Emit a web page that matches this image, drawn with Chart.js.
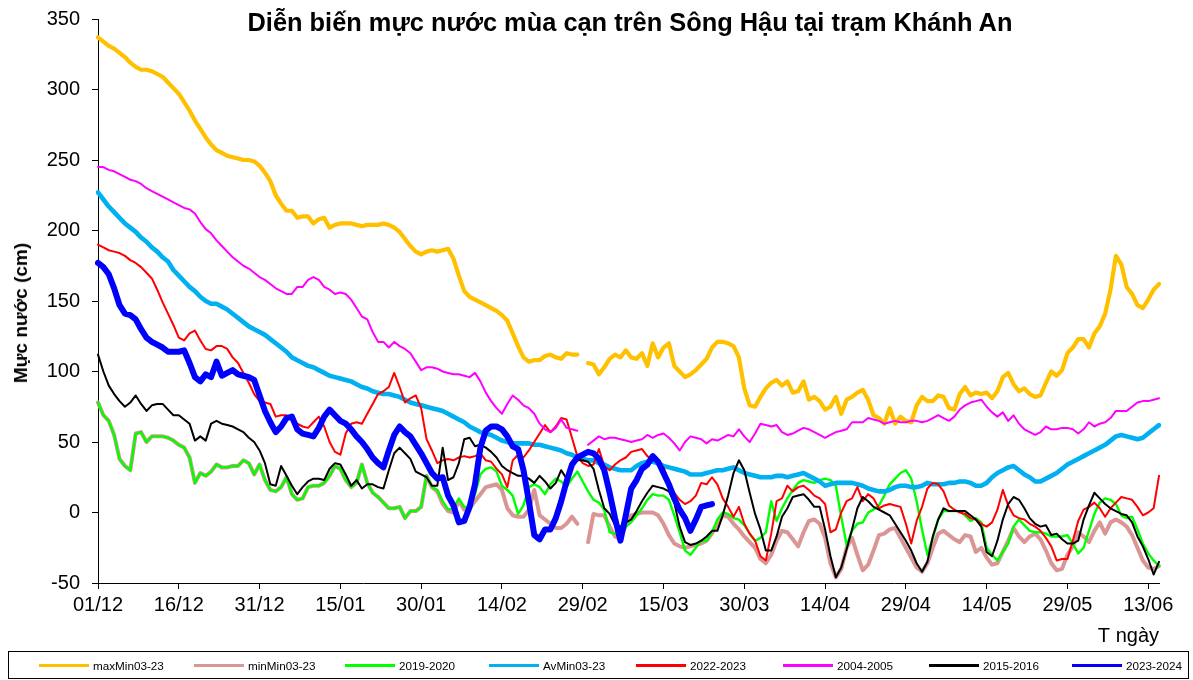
<!DOCTYPE html>
<html><head><meta charset="utf-8">
<script src="https://cdn.jsdelivr.net/npm/chart.js@4.4.1/dist/chart.umd.min.js"></script>
<style>
html,body{margin:0;padding:0;background:#fff;}
#wrap{position:relative;width:1193px;height:680px;font-family:"Liberation Sans",Arial,sans-serif;color:#000;overflow:hidden;}
#c{position:absolute;left:0;top:0;}
#title{position:absolute;top:7px;left:630px;transform:translateX(-50%);font-weight:bold;font-size:25.4px;line-height:30px;white-space:nowrap;}
#ytitle{position:absolute;left:21px;top:313px;transform:translate(-50%,-50%) rotate(-90deg);font-weight:bold;font-size:19px;line-height:22px;white-space:nowrap;}
#legend{position:absolute;left:8px;top:651px;width:1179px;height:26px;border:1px solid #000;}
.li{position:absolute;top:0;height:26px;display:flex;align-items:center;font-size:11.7px;white-space:nowrap;}
.sw{display:inline-block;width:50px;height:3px;margin-right:4px;}
</style></head><body>
<div id="wrap"><canvas id="c" width="1193" height="680" style="width:1193px;height:680px"></canvas>
<div id="title">Diễn biến mực nước mùa cạn trên Sông Hậu tại trạm Khánh An</div>
<div id="ytitle">Mực nước (cm)</div>
<div id="legend"></div></div>
<script>
// ---- data ----
const tickLabels = ['01/12','16/12','31/12','15/01','30/01','14/02','29/02','15/03','30/03','14/04','29/04','14/05','29/05','13/06'];
const yTicks = [-50,0,50,100,150,200,250,300,350];
const seriesNames = ['maxMin03-23','minMin03-23','2019-2020','AvMin03-23','2022-2023','2004-2005','2015-2016','2023-2024'];

const maxMin = [
337,334,331,329,326,323,319,316,314,314,
313,311,309,305,301,297,291,285,278,272,
266,261,257,255,253,252,251,250,250,249,
246,241,235,225,219,214,214,209,210,210,
205,208,209,202,204,205,205,205,204,203,
204,204,204,205,204,202,199,194,189,185,
183,185,186,185,186,187,180,168,157,153,
151,149,147,145,143,140,136,127,118,110,
107,108,108,111,112,110,109,113,112,112,
null,106,105,98,103,109,112,110,115,110,
109,113,104,120,110,117,120,104,100,96,
98,101,105,109,117,121,121,120,118,110,
88,76,75,82,88,92,94,90,93,85,
86,93,80,82,79,73,75,82,70,80,
82,85,87,80,69,67,63,74,63,68,
65,64,76,82,79,79,83,82,74,73,
84,89,83,85,84,85,81,86,96,99,
91,86,88,84,82,83,92,100,97,101,
113,117,123,123,117,127,132,141,158,182,
176,160,155,147,145,151,158,162];

const minMin = [
78,69,65,55,38,33,30,56,57,50,
54,54,54,53,51,48,46,39,21,28,
26,29,34,32,32,33,33,37,35,27,
34,23,16,15,18,25,13,9,10,18,
19,19,21,26,33,31,23,18,21,34,
21,14,11,7,3,3,4,-4,1,1,
4,26,18,15,6,1,0,8,2,3,
8,13,18,19,20,16,3,-2,-3,-3,
2,16,-2,-5,-8,-11,-11,-8,-3,-8,
null,-21,-1,-2,-2,-10,-17,-19,-9,-2,
-1,0,0,0,-2,-8,-16,-22,-24,-25,
-24,-23,-22,-20,-15,-8,-2,-3,-8,-12,
-17,-21,-25,-33,-36,-30,-20,-13,-14,-19,
-24,-14,-6,-5,-8,-18,-36,-46,-40,-25,
-18,-30,-41,-37,-27,-16,-15,-12,-11,-18,
-25,-32,-39,-42,-36,-25,-15,-13,-16,-19,
-21,-16,-17,-28,-25,-32,-37,-36,-28,-20,
-11,-17,-21,-17,-15,-19,-27,-36,-41,-40,
-30,-24,-14,-17,-21,-13,-7,-15,-7,-5,
-7,-10,-16,-25,-34,-39,-40,-38];

const y2019 = [
78,69,65,55,38,33,30,56,57,50,
54,54,54,53,51,48,46,39,21,28,
26,29,34,32,32,33,33,37,35,27,
34,23,16,15,18,25,13,9,10,18,
19,19,21,26,33,31,23,18,21,34,
21,14,11,7,3,3,4,-4,1,1,
4,26,18,16,8,2,3,10,4,4,
13,27,31,32,29,19,16,12,-1,5,
18,20,18,13,20,24,22,18,24,29,
22,15,9,7,2,-14,-15,-14,-10,-7,
-2,3,9,13,12,12,9,-2,-14,-27,
-30,-25,-20,-20,-14,-5,0,-1,-4,-5,
-9,-15,-20,-18,-14,8,-6,3,10,16,
21,23,22,21,23,24,23,19,-3,-23,
-13,-8,-7,0,2,5,12,20,24,28,
30,24,8,-12,-30,-18,-5,1,1,1,
1,-2,-6,-4,-7,-25,-30,-34,-28,-22,
-10,-5,-9,-13,-14,-14,-15,-17,-17,-17,
-16,-22,-29,-25,-13,-1,7,10,9,6,
-2,-4,-3,-12,-22,-29,-34,-38];

const avMin = [
227,222,217,213,209,205,202,199,195,192,
188,185,181,178,172,168,164,160,157,153,
150,148,148,146,144,141,138,135,132,130,
128,126,123,120,117,114,110,108,106,104,
103,101,99,97,96,95,94,93,91,89,
88,86,85,84,84,83,82,80,78,77,
76,75,74,73,72,70,68,66,64,61,
59,57,56,55,53,51,50,49,49,49,
49,48,48,47,46,45,44,42,41,39,
38,37,37,35,34,32,31,30,30,30,
33,35,36,36,35,33,32,31,30,29,
27,27,27,28,29,30,30,31,32,30,
28,27,26,25,25,25,26,26,25,26,
27,28,26,24,22,19,20,21,21,21,
21,20,19,17,16,15,15,16,18,19,
19,18,18,19,21,20,20,20,21,21,
22,22,21,19,19,21,25,28,30,32,
33,30,27,25,22,22,24,26,28,31,
34,36,38,40,42,44,46,48,51,54,
55,54,53,52,53,56,59,62];

const y2022 = [
190,188,186,185,184,182,179,177,174,170,
166,158,149,141,133,124,122,127,129,122,
116,115,118,118,116,110,106,99,92,84,
79,78,77,68,69,69,66,63,61,60,
64,68,61,50,43,41,56,63,64,63,
70,77,84,86,89,99,89,78,81,83,
74,52,44,35,37,38,37,39,40,39,
40,42,37,36,31,27,18,37,41,39,
44,50,56,62,57,61,67,66,53,40,
35,33,34,45,33,30,34,37,39,43,
44,45,40,37,36,32,22,14,9,6,
8,12,21,20,25,20,10,4,-3,4,
-8,-15,-20,-31,-34,-15,8,10,19,15,
18,19,16,12,10,6,-14,-12,0,8,
10,18,8,13,10,3,5,6,5,4,
-8,-22,-6,4,17,21,20,15,5,2,
0,-1,-4,-5,-8,-10,-7,2,16,5,
-2,-4,-5,-8,-10,-13,-18,-24,-34,-33,
-33,-20,-6,2,4,7,3,-3,3,7,
11,10,9,4,-2,0,3,26];

const y2004 = [
245,245,243,242,240,238,236,235,233,230,
228,226,224,222,220,218,216,215,212,206,
201,198,193,189,185,181,178,175,173,170,
167,165,162,159,157,155,155,160,160,165,
167,165,160,158,155,156,155,151,145,139,
137,128,121,121,117,121,118,116,113,107,
101,103,103,102,100,99,98,98,97,96,
99,93,85,79,74,70,77,83,80,76,
74,70,63,59,57,60,66,60,59,58,
null,48,51,54,52,53,53,52,51,50,
51,52,55,53,55,56,53,49,44,50,
54,53,52,49,52,51,53,55,54,59,
54,50,56,63,62,61,62,57,55,56,
58,60,59,57,55,53,55,57,58,59,
64,64,64,67,66,65,63,64,65,64,
64,65,65,64,65,67,69,67,65,68,
73,76,78,79,80,75,71,68,71,65,
69,63,59,57,55,57,61,59,59,60,
60,59,56,59,64,61,63,64,67,72,
72,72,75,78,79,79,80,81];

const y2015 = [
112,100,90,84,79,75,78,83,77,72,
76,77,77,73,69,69,66,63,51,54,
51,63,65,63,62,61,59,57,53,50,
44,35,20,19,33,26,19,13,18,22,
24,24,23,31,35,34,27,19,23,17,
20,20,18,17,30,42,46,42,38,29,
27,25,19,19,46,23,25,35,52,53,
47,48,46,43,39,33,30,28,26,26,
24,21,26,22,17,21,30,24,33,37,
37,36,31,16,3,-1,-9,-10,-7,-5,
1,8,14,19,18,17,15,7,-10,-21,
-23,-22,-20,-17,-13,-13,-2,12,28,37,
30,14,-1,-12,-27,-27,-17,-3,3,11,
12,13,9,4,4,-12,-31,-46,-39,-26,
-12,3,11,8,4,2,0,-2,-8,-14,
-20,-27,-36,-42,-35,-17,-5,3,1,1,
1,1,-2,-5,-10,-28,-31,-20,-5,6,
11,9,3,-4,-8,-10,-9,-16,-15,-19,
-22,-22,-20,-5,5,14,10,6,3,1,
-1,-2,-7,-17,-24,-33,-44,-35];

const y2023 = [
177,174,169,159,147,141,140,137,130,124,
121,119,117,114,114,114,115,106,96,93,
98,96,107,97,99,101,98,97,96,94,
83,72,64,57,61,67,68,59,56,55,
54,60,68,73,69,65,63,59,54,50,
45,39,35,32,44,55,61,57,54,48,
42,35,28,24,25,12,5,-7,-6,4,
20,46,58,61,61,59,54,47,45,30,
8,-16,-19,-12,-12,-4,8,22,34,39,
41,43,42,38,30,14,-4,-20,-2,17,
23,31,34,40,36,28,20,10,2,-4,
-13,-5,4,5,6];

// ---- categories (daily, 01/12 .. 15/06, leap year) ----
const dayLabels = [];
(function(){
  const d = new Date(2023, 11, 1);
  for (let i = 0; i < maxMin.length; i++) {
    dayLabels.push(String(d.getDate()).padStart(2,'0') + '/' + String(d.getMonth()+1).padStart(2,'0'));
    d.setDate(d.getDate() + 1);
  }
})();

// ---- styles ----
const seriesData = [maxMin, minMin, y2019, avMin, y2022, y2004, y2015, y2023];
const colors = ['#FFC000','#DA9694','#00FF00','#00B0F0','#FF0000','#FF00FF','#000000','#0000FF'];
const widths = [4.2, 4, 2.4, 4.6, 2, 2, 2, 6];
const F = '"Liberation Sans", Arial, sans-serif';

const datasets = seriesNames.map((n, i) => ({
  label: n, data: seriesData[i], borderColor: colors[i], backgroundColor: colors[i],
  borderWidth: widths[i], pointRadius: 0, fill: false, tension: 0, spanGaps: false,
  borderJoinStyle: 'round', borderCapStyle: 'round', order: seriesNames.length - i
}));

const tickCol = c => (c.tick && c.tick.label) ? '#000' : 'rgba(0,0,0,0)';

new Chart(document.getElementById('c'), {
  type: 'line',
  data: { labels: dayLabels, datasets },
  options: {
    responsive: false, animation: false, devicePixelRatio: 1, events: [],
    layout: { padding: { left: 0, right: 34, top: 19, bottom: 30 } },
    plugins: { legend: { display: false }, title: { display: false }, tooltip: { enabled: false } },
    scales: {
      x: {
        type: 'category', offset: false,
        grid: { drawOnChartArea: false, drawTicks: true, tickLength: 6, color: tickCol, tickColor: tickCol },
        border: { display: true, color: '#000', width: 1 },
        ticks: { autoSkip: false, maxRotation: 0, minRotation: 0, padding: 4, color: '#000',
          font: { family: F, size: 20 },
          callback: (v, i) => tickLabels.includes(dayLabels[i]) ? dayLabels[i] : null },
        title: { display: true, text: 'T ngày', align: 'end', color: '#000',
          font: { family: F, size: 20 }, padding: { top: 0, bottom: 2 } },
        afterFit: s => { s.height = 67; s.paddingLeft = 0; s.paddingRight = 0; }
      },
      y: {
        min: -50, max: 350,
        afterBuildTicks: s => { s.ticks = yTicks.map(v => ({ value: v })); },
        ticks: { padding: 12, color: '#000', font: { family: F, size: 20 } },
        grid: { drawOnChartArea: false, drawTicks: true, tickLength: 6, color: '#000' },
        border: { display: true, color: '#000', width: 1 },
        title: { display: false },
        afterFit: s => { s.width = 98; s.paddingTop = 0; s.paddingBottom = 0; }
      }
    }
  }
});

// ---- legend ----
const legendLeft = [39, 194, 345, 489, 636, 783, 929, 1072];
const lg = document.getElementById('legend');
seriesNames.forEach((n, i) => {
  const it = document.createElement('div');
  it.className = 'li';
  it.style.left = (legendLeft[i] - 9) + 'px';
  const sw = document.createElement('span');
  sw.className = 'sw'; sw.style.background = colors[i];
  const tx = document.createElement('span');
  tx.textContent = n;
  it.appendChild(sw); it.appendChild(tx);
  lg.appendChild(it);
});
</script>
</body></html>
